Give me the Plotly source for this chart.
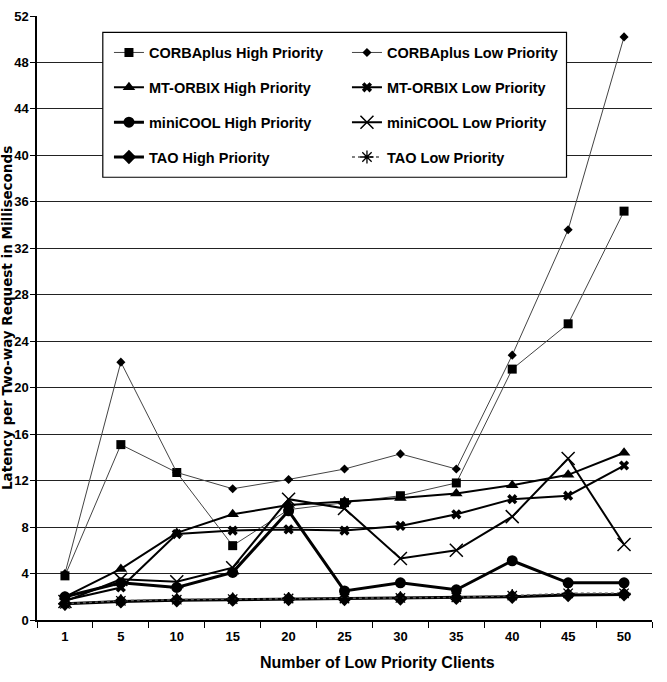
import plotly.graph_objects as go

clients = ["1", "5", "10", "15", "20", "25", "30", "35", "40", "45", "50"]

corbaplus_high = [3.8, 15.1, 12.7, 6.4, 9.5, 10.1, 10.7, 11.8, 21.6, 25.5, 35.2]
corbaplus_low = [4.0, 22.2, 12.7, 11.3, 12.1, 13.0, 14.3, 13.0, 22.8, 33.6, 50.2]
mtorbix_high = [2.0, 4.4, 7.5, 9.1, 9.9, 10.2, 10.5, 10.9, 11.6, 12.5, 14.4]
mtorbix_low = [1.7, 2.8, 7.4, 7.7, 7.8, 7.7, 8.1, 9.1, 10.4, 10.7, 13.3]
minicool_high = [2.0, 3.2, 2.8, 4.1, 9.4, 2.5, 3.2, 2.6, 5.1, 3.2, 3.2]
minicool_low = [1.6, 3.5, 3.3, 4.5, 10.4, 9.6, 5.3, 6.0, 8.9, 13.9, 6.5]
tao_high = [1.4, 1.6, 1.7, 1.75, 1.8, 1.8, 1.85, 1.9, 2.0, 2.15, 2.2]
tao_low = [1.4, 1.65, 1.75, 1.8, 1.85, 1.85, 1.9, 1.95, 2.1, 2.3, 2.3]

x_title = "Number of Low Priority Clients"
y_title = "Latency per Two-way Request in Milliseconds"

series = [
    ("CORBAplus High Priority", corbaplus_high, "legend", dict(symbol="square", size=9), dict(width=1, color="#444")),
    ("MT-ORBIX High Priority", mtorbix_high, "legend", dict(symbol="triangle-up", size=11), dict(width=2, color="black")),
    ("miniCOOL High Priority", minicool_high, "legend", dict(symbol="circle", size=11), dict(width=3, color="black")),
    ("TAO High Priority", tao_high, "legend", dict(symbol="diamond", size=11), dict(width=3, color="black")),
    ("CORBAplus Low Priority", corbaplus_low, "legend2", dict(symbol="diamond", size=7), dict(width=1, color="#444")),
    ("MT-ORBIX Low Priority", mtorbix_low, "legend2", dict(symbol="x", size=9), dict(width=2, color="black")),
    ("miniCOOL Low Priority", minicool_low, "legend2", dict(symbol="x-thin-open", size=13, line=dict(width=1.5, color="black")), dict(width=2, color="black")),
    ("TAO Low Priority", tao_low, "legend2", dict(symbol="asterisk-open", size=11, line=dict(width=1.3, color="black")), dict(width=1.5, color="#555", dash="dot")),
]

fig = go.Figure()
for name, vals, leg, mk, ln in series:
    fig.add_trace(go.Scatter(
        x=clients, y=vals, name=name, mode="lines+markers",
        marker=dict(color="black", **mk), line=ln,
        legend=leg, legendgroup=name,
    ))

font_family = "Liberation Sans, Arial, sans-serif"
leg_font = dict(family=font_family, size=14.5, weight="bold", color="black")

fig.update_layout(
    width=667, height=682,
    margin=dict(l=37, r=15, t=16, b=62),
    paper_bgcolor="white", plot_bgcolor="white",
    font=dict(family=font_family, color="black", size=13),
    xaxis=dict(
        type="category", range=[-0.5, 10.5], automargin=False,
        showline=True, linecolor="black", linewidth=1.5,
        ticks="outside", tickson="boundaries", ticklen=6, tickcolor="black",
        showgrid=False, ticklabelstandoff=4,
        tickfont=dict(family=font_family, size=13, color="black", weight="bold"),
    ),
    yaxis=dict(
        range=[0, 52], dtick=4, automargin=False,
        showline=True, linecolor="black", linewidth=1.5,
        ticks="outside", ticklen=5, tickcolor="black",
        showgrid=True, gridcolor="#222", gridwidth=1, zeroline=False,
        ticklabelstandoff=-1,
        tickfont=dict(family=font_family, size=13, color="black", weight="bold"),
    ),
    legend=dict(
        x=0.117, y=0.966, xanchor="left", yanchor="top",
        bgcolor="rgba(0,0,0,0)", borderwidth=0, font=leg_font,
        tracegroupgap=13, itemwidth=30,
    ),
    legend2=dict(
        x=0.504, y=0.966, xanchor="left", yanchor="top",
        bgcolor="rgba(0,0,0,0)", borderwidth=0, font=leg_font,
        tracegroupgap=13, itemwidth=30,
    ),
    shapes=[dict(
        type="rect", xref="paper", yref="paper",
        x0=0.107, x1=0.861, y0=0.733, y1=0.973,
        line=dict(color="black", width=1.2), fillcolor="white", layer="above",
    )],
    annotations=[
        dict(text="<b>" + x_title + "</b>", xref="paper", yref="paper",
             x=0.553, y=0, yshift=-42, xanchor="center", yanchor="middle",
             showarrow=False, font=dict(family=font_family, size=16, color="black")),
        dict(text="<b>" + y_title + "</b>", xref="paper", yref="paper",
             x=0, xshift=-30, y=0.5, xanchor="center", yanchor="middle",
             textangle=-90, showarrow=False,
             font=dict(family="DejaVu Sans", size=13.5, color="black")),
    ],
    showlegend=True,
)

fig.write_html("out.html")
